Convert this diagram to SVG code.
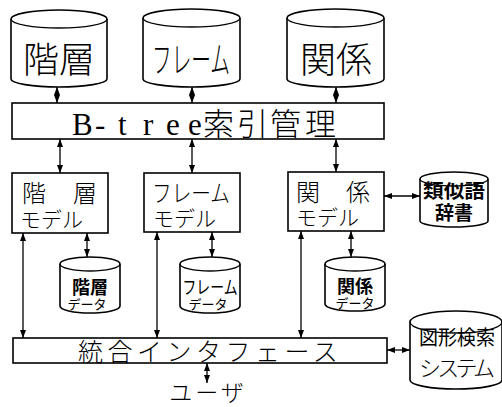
<svg xmlns="http://www.w3.org/2000/svg" width="502" height="407" viewBox="0 0 502 407">
<style>
.shape{fill:#fff;stroke:#000;stroke-width:1.6}
.line{fill:none;stroke:#000;stroke-width:1.3}
.t{font-family:"Noto Sans CJK JP","Noto Sans CJK SC",sans-serif;fill:#000;font-weight:300}
.n{font-family:"Noto Sans CJK JP","Noto Sans CJK SC",sans-serif;fill:#000;font-weight:400}
.b{font-family:"Noto Sans CJK JP","Noto Sans CJK SC",sans-serif;fill:#000;font-weight:700}
.mid{text-anchor:middle}
</style>
<defs>
<marker id="ah" viewBox="0 0 8 6" refX="8" refY="3" markerWidth="8" markerHeight="6" markerUnits="userSpaceOnUse" orient="auto-start-reverse">
<path d="M0,0 L8,3 L0,6 Z" fill="#000"/>
</marker>
</defs>
<rect width="502" height="407" fill="#fff"/>

<g id="db-kaisou">
<path class="shape" d="M11,19 A48,9 0 0 1 107,19 L107,79 A48,8 0 0 1 11,79 Z"/>
<path class="line" d="M11,19 A48,9 0 0 0 107,19"/>
<text class="t mid" x="59" y="73" font-size="36">階層</text>
</g>
<g id="db-frame">
<path class="shape" d="M143,18 A48.5,9 0 0 1 240,18 L240,79 A48.5,8 0 0 1 143,79 Z"/>
<path class="line" d="M143,18 A48.5,9 0 0 0 240,18"/>
<text class="t mid" x="191" y="73" font-size="36" textLength="78" lengthAdjust="spacingAndGlyphs">フレーム</text>
</g>
<g id="db-kankei">
<path class="shape" d="M287,18 A48.5,9 0 0 1 384,18 L384,79 A48.5,8 0 0 1 287,79 Z"/>
<path class="line" d="M287,18 A48.5,9 0 0 0 384,18"/>
<text class="t mid" x="336" y="73" font-size="36">関係</text>
</g>

<g id="btree">
<rect class="shape" x="12" y="103" width="372" height="36"/>
<text font-size="31" y="135" fill="#000"><tspan font-family="Liberation Serif,serif" x="72 95 118 143 166 188">B-tree</tspan><tspan class="t" x="203 237 270 305">索引管理</tspan></text>
</g>

<g id="model-kaisou">
<rect class="shape" x="12" y="173" width="96" height="60"/>
<text class="t" font-size="24" x="22" y="202">階</text>
<text class="t" font-size="24" x="73" y="202">層</text>
<text class="t" font-size="21" x="20" y="227">モデル</text>
</g>
<g id="model-frame">
<rect class="shape" x="144" y="173" width="96" height="59"/>
<text class="t" font-size="24" x="152" y="202" textLength="78" lengthAdjust="spacingAndGlyphs">フレーム</text>
<text class="t" font-size="21" x="153" y="226">モデル</text>
</g>
<g id="model-kankei">
<rect class="shape" x="288" y="172" width="96" height="59"/>
<text class="t" font-size="24" x="296" y="201">関</text>
<text class="t" font-size="24" x="346" y="201">係</text>
<text class="t" font-size="21" x="296" y="225">モデル</text>
</g>

<g id="db-ruijigo">
<path class="shape" d="M420,179 A34,7 0 0 1 488,179 L488,221 A34,6 0 0 1 420,221 Z"/>
<path class="line" d="M420,179 A34,7 0 0 0 488,179"/>
<text class="b mid" x="454" y="198" font-size="19" textLength="62" lengthAdjust="spacingAndGlyphs">類似語</text>
<text class="b mid" x="454" y="220" font-size="19">辞書</text>
</g>

<g id="data-kaisou">
<path class="shape" d="M60,264 A30,7 0 0 1 120,264 L120,306 A30,7 0 0 1 60,306 Z"/>
<path class="line" d="M60,264 A30,7 0 0 0 120,264"/>
<text class="b mid" x="90" y="294" font-size="18">階層</text>
<text class="n mid" x="87" y="309" font-size="13">データ</text>
</g>
<g id="data-frame">
<path class="shape" d="M180,264 A30,7 0 0 1 240,264 L240,306 A30,7 0 0 1 180,306 Z"/>
<path class="line" d="M180,264 A30,7 0 0 0 240,264"/>
<text class="n mid" x="210" y="294" font-size="18" textLength="55" lengthAdjust="spacingAndGlyphs">フレーム</text>
<text class="n mid" x="208" y="309" font-size="13">データ</text>
</g>
<g id="data-kankei">
<path class="shape" d="M325,264 A30,7 0 0 1 385,264 L385,304 A30,7 0 0 1 325,304 Z"/>
<path class="line" d="M325,264 A30,7 0 0 0 385,264"/>
<text class="b mid" x="355" y="293" font-size="18">関係</text>
<text class="n mid" x="355" y="308" font-size="13">データ</text>
</g>

<g id="tougou">
<rect class="shape" x="13" y="338" width="374" height="25"/>
<text class="t" font-size="25" x="78" y="361" letter-spacing="4.5">統合インタフェース</text>
</g>

<g id="db-zukei">
<path class="shape" d="M410,322 A46,11 0 0 1 502,322 L502,380 A46,9 0 0 1 410,380 Z"/>
<path class="line" d="M410,322 A46,11 0 0 0 502,322"/>
<text class="n mid" x="457" y="345" font-size="20" textLength="76" lengthAdjust="spacingAndGlyphs">図形検索</text>
<text class="t mid" x="457" y="376" font-size="22" textLength="76">システム</text>
</g>

<g id="user">
<text class="t mid" x="208" y="401" font-size="23" letter-spacing="3">ユーザ</text>
</g>

<g id="connectors">
<line class="line" x1="57" y1="87" x2="57" y2="103" marker-start="url(#ah)" marker-end="url(#ah)"/>
<line class="line" x1="192" y1="87" x2="192" y2="103" marker-start="url(#ah)" marker-end="url(#ah)"/>
<line class="line" x1="336" y1="87" x2="336" y2="103" marker-start="url(#ah)" marker-end="url(#ah)"/>
<line class="line" x1="60" y1="139" x2="60" y2="173" marker-start="url(#ah)" marker-end="url(#ah)"/>
<line class="line" x1="192" y1="139" x2="192" y2="173" marker-start="url(#ah)" marker-end="url(#ah)"/>
<line class="line" x1="336" y1="139" x2="336" y2="172" marker-start="url(#ah)" marker-end="url(#ah)"/>
<line class="line" x1="87" y1="233" x2="87" y2="257" marker-start="url(#ah)" marker-end="url(#ah)"/>
<line class="line" x1="212" y1="232" x2="212" y2="257" marker-start="url(#ah)" marker-end="url(#ah)"/>
<line class="line" x1="351" y1="231" x2="351" y2="257" marker-start="url(#ah)" marker-end="url(#ah)"/>
<line class="line" x1="23" y1="233" x2="23" y2="338" marker-start="url(#ah)" marker-end="url(#ah)"/>
<line class="line" x1="157" y1="232" x2="157" y2="338" marker-start="url(#ah)" marker-end="url(#ah)"/>
<line class="line" x1="301" y1="231" x2="301" y2="338" marker-start="url(#ah)" marker-end="url(#ah)"/>
<line class="line" x1="384" y1="196" x2="420" y2="196" marker-start="url(#ah)" marker-end="url(#ah)"/>
<line class="line" x1="387" y1="350" x2="410" y2="350" marker-start="url(#ah)" marker-end="url(#ah)"/>
<line class="line" x1="207" y1="363" x2="207" y2="383" marker-start="url(#ah)" marker-end="url(#ah)"/>
</g>
</svg>
